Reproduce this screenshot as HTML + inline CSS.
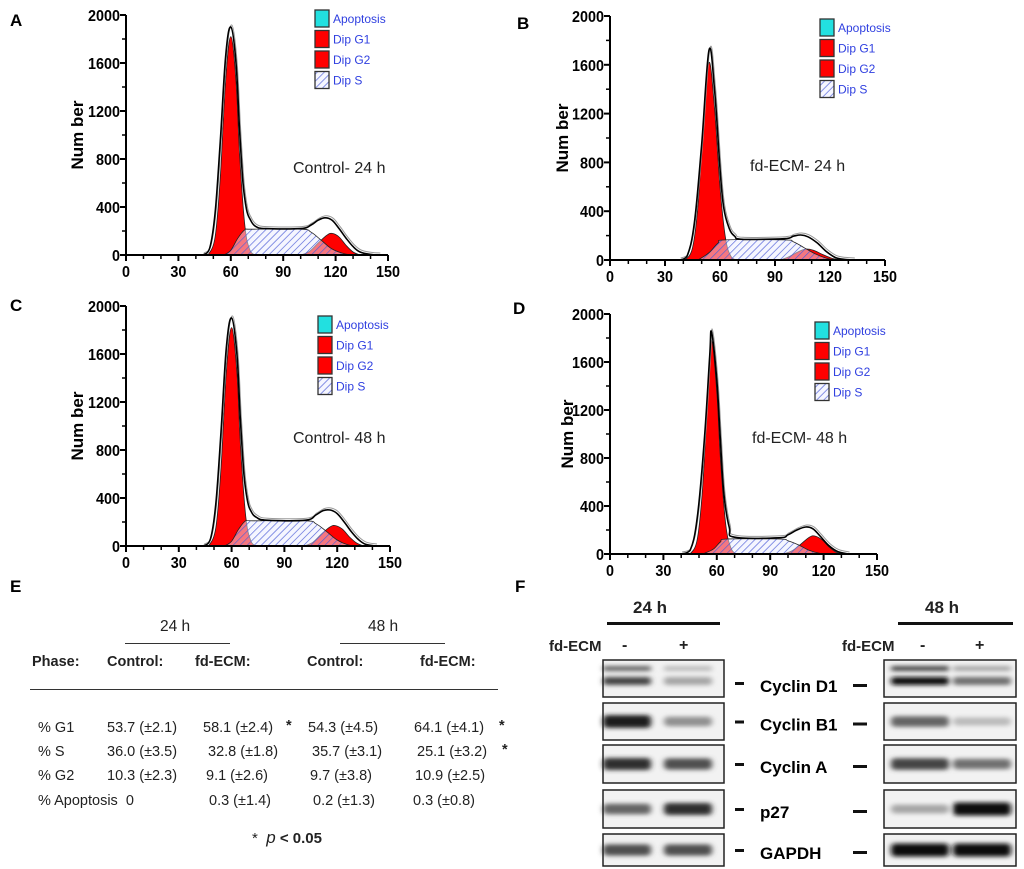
<!DOCTYPE html>
<html><head><meta charset="utf-8">
<style>
html,body{margin:0;padding:0;background:#fff;}
body{width:1024px;height:869px;position:relative;overflow:hidden;font-family:"Liberation Sans",sans-serif;}
.t{position:absolute;white-space:nowrap;font-size:14.5px;color:#222;line-height:1;}
.b{font-weight:bold;}
.L{position:absolute;font-weight:bold;font-size:17px;line-height:1;}
</style></head>
<body>
<svg id="fig" width="1024" height="869" style="position:absolute;left:0;top:0">
<defs>
<pattern id="hatch" patternUnits="userSpaceOnUse" width="5" height="5" patternTransform="rotate(45)">
<rect width="5" height="5" fill="rgba(235,238,255,0.5)"/>
<line x1="0" y1="0" x2="0" y2="5" stroke="#4f5fd8" stroke-width="1.3"/>
</pattern>
<filter id="blur" x="-30%" y="-100%" width="160%" height="300%"><feGaussianBlur stdDeviation="3,2.2"/></filter>
</defs>
</svg>

<div class="L" style="left:10px;top:12px">A</div>
<div class="L" style="left:517px;top:15px">B</div>
<div class="L" style="left:10px;top:297px">C</div>
<div class="L" style="left:513px;top:300px">D</div>
<div class="L" style="left:10px;top:578px">E</div>
<div class="L" style="left:515px;top:578px">F</div>

<div>
<div class="t" style="left:160px;top:619px;font-size:15.5px">24 h</div>
<div style="position:absolute;left:125px;top:643px;width:105px;height:1px;background:#333"></div>
<div class="t" style="left:368px;top:619px;font-size:15.5px">48 h</div>
<div style="position:absolute;left:340px;top:643px;width:105px;height:1px;background:#333"></div>
<div class="t b" style="left:32px;top:655px">Phase:</div>
<div class="t b" style="left:107px;top:655px">Control:</div>
<div class="t b" style="left:195px;top:655px">fd-ECM:</div>
<div class="t b" style="left:307px;top:655px">Control:</div>
<div class="t b" style="left:420px;top:655px">fd-ECM:</div>
<div style="position:absolute;left:30px;top:689px;width:468px;height:1px;background:#333"></div>

<div class="t" style="left:38px;top:721px">% G1</div>
<div class="t" style="left:107px;top:721px">53.7 (±2.1)</div>
<div class="t" style="left:203px;top:721px">58.1 (±2.4)</div>
<div class="t b" style="left:286px;top:719px">*</div>
<div class="t" style="left:308px;top:721px">54.3 (±4.5)</div>
<div class="t" style="left:414px;top:721px">64.1 (±4.1)</div>
<div class="t b" style="left:499px;top:719px">*</div>

<div class="t" style="left:38px;top:745px">% S</div>
<div class="t" style="left:107px;top:745px">36.0 (±3.5)</div>
<div class="t" style="left:208px;top:745px">32.8 (±1.8)</div>
<div class="t" style="left:312px;top:745px">35.7 (±3.1)</div>
<div class="t" style="left:417px;top:745px">25.1 (±3.2)</div>
<div class="t b" style="left:502px;top:743px">*</div>

<div class="t" style="left:38px;top:769px">% G2</div>
<div class="t" style="left:107px;top:769px">10.3 (±2.3)</div>
<div class="t" style="left:206px;top:769px">9.1 (±2.6)</div>
<div class="t" style="left:310px;top:769px">9.7 (±3.8)</div>
<div class="t" style="left:415px;top:769px">10.9 (±2.5)</div>

<div class="t" style="left:38px;top:794px">% Apoptosis&nbsp; 0</div>
<div class="t" style="left:209px;top:794px">0.3 (±1.4)</div>
<div class="t" style="left:313px;top:794px">0.2 (±1.3)</div>
<div class="t" style="left:413px;top:794px">0.3 (±0.8)</div>

<div class="t" style="left:252px;top:829px;font-size:15px">* &nbsp;<i style="font-size:17px">p</i> <b>&lt; 0.05</b></div>
</div>

<div class="t b" style="left:633px;top:599px;font-size:17px">24 h</div>
<div style="position:absolute;left:607px;top:622px;width:113px;height:3px;background:#111"></div>
<div class="t b" style="left:925px;top:599px;font-size:17px">48 h</div>
<div style="position:absolute;left:898px;top:622px;width:115px;height:3px;background:#111"></div>
<div class="t b" style="left:549px;top:639px;font-size:15px">fd-ECM</div>
<div class="t b" style="left:622px;top:638px;font-size:16px">-</div>
<div class="t b" style="left:679px;top:638px;font-size:16px">+</div>
<div class="t b" style="left:842px;top:639px;font-size:15px">fd-ECM</div>
<div class="t b" style="left:920px;top:638px;font-size:16px">-</div>
<div class="t b" style="left:975px;top:638px;font-size:16px">+</div>

<script>
const panelNames = ["A","B","C","D"];
const panelTitles = ["Control- 24 h","fd-ECM- 24 h","Control- 48 h","fd-ECM- 48 h"];
const xTicks = [0,30,60,90,120,150];
const yTicks = [0,400,800,1200,1600,2000];
const legendLabels = ["Apoptosis","Dip G1","Dip G2","Dip S"];

const A_g1 = [[47,0],[51,150],[54,650],[57,1450],[60,1820],[63,1450],[65,850],[68,250],[71,40],[74,0]];
const A_s  = [[56,0],[60,40],[64,140],[68,210],[72,215],[100,215],[106,190],[112,120],[118,50],[125,10],[130,0]];
const A_g2 = [[100,0],[105,30],[110,100],[115,165],[118,180],[122,150],[126,80],[130,25],[134,0]];
const A_tot= [[44,0],[48,60],[51,350],[54,950],[57,1650],[60,1900],[63,1600],[65,1050],[67,600],[69,380],[71,300],[74,240],[80,220],[100,220],[106,250],[110,290],[114,310],[118,290],[122,220],[126,140],[130,70],[134,25],[140,5],[145,0]];

const B_g1 = [[41,0],[45,100],[48,450],[51,1150],[54,1620],[57,1250],[60,600],[63,180],[66,30],[69,0]];
const B_s  = [[48,0],[54,60],[59,140],[63,165],[95,165],[100,150],[106,100],[112,50],[118,15],[123,0]];
const B_g2 = [[93,0],[98,30],[103,70],[107,90],[111,80],[116,45],[121,15],[126,0]];
const B_tot= [[38,0],[42,30],[46,300],[50,950],[54,1720],[57,1400],[60,750],[62,430],[65,260],[68,195],[72,170],[95,175],[100,195],[104,205],[108,190],[113,140],[118,70],[123,20],[128,5],[133,0]];

const C_g1 = [[47,0],[51,150],[54,650],[57,1450],[60,1820],[63,1450],[65,850],[68,250],[71,40],[74,0]];
const C_s  = [[56,0],[60,40],[64,140],[68,210],[72,210],[102,210],[108,185],[114,120],[120,50],[126,10],[131,0]];
const C_g2 = [[101,0],[106,30],[111,100],[116,160],[119,170],[123,140],[127,75],[131,25],[135,0]];
const C_tot= [[44,0],[48,60],[51,350],[54,950],[57,1650],[60,1900],[63,1600],[65,1050],[67,600],[69,380],[71,290],[74,240],[80,215],[102,215],[108,260],[112,295],[116,300],[120,270],[124,200],[128,120],[132,55],[136,15],[142,0]];

const D_g1 = [[45,0],[49,120],[52,550],[55,1350],[57,1780],[60,1350],[62,800],[65,250],[68,50],[71,0]];
const D_s  = [[52,0],[58,40],[62,100],[66,125],[95,125],[100,110],[106,75],[112,30],[118,5],[122,0]];
const D_g2 = [[97,0],[102,25],[107,80],[112,140],[115,150],[119,120],[123,60],[127,15],[131,0]];
const D_tot= [[40,0],[45,30],[49,300],[53,950],[56,1650],[57,1850],[60,1450],[62,950],[64,500],[67,220],[70,140],[95,135],[100,160],[105,200],[110,225],[114,210],[118,150],[123,70],[128,20],[134,0]];

const seriesG1 = [A_g1,B_g1,C_g1,D_g1];
const seriesS  = [A_s,B_s,C_s,D_s];
const seriesG2 = [A_g2,B_g2,C_g2,D_g2];
const seriesTot= [A_tot,B_tot,C_tot,D_tot];

const proteins = ["Cyclin D1","Cyclin B1","Cyclin A","p27","GAPDH"];
const blot24_minus = [0.75,0.95,0.85,0.6,0.7];
const blot24_plus  = [0.3,0.4,0.7,0.85,0.7];
const blot48_minus = [1.0,0.6,0.75,0.3,1.0];
const blot48_plus  = [0.55,0.2,0.55,1.0,1.0];
const d1Upper24 = [0.6,0.2];
const d1Upper48 = [0.75,0.3];

const layouts = [
  {x0:126,x1:388,y0:255,y1:15, ylab:77, legX:315, legY:10, titleX:293, titleY:167},
  {x0:610,x1:885,y0:260,y1:16, ylab:562, legX:820, legY:19, titleX:750, titleY:165},
  {x0:126,x1:390,y0:546,y1:306, ylab:77, legX:318, legY:316, titleX:293, titleY:437},
  {x0:610,x1:877,y0:554,y1:314, ylab:567, legX:815, legY:322, titleX:752, titleY:437}
];
const svg = document.getElementById('fig');
const NS = 'http://www.w3.org/2000/svg';
function mk(tag, attrs, parent){
  const e = document.createElementNS(NS, tag);
  for (const k in attrs) e.setAttribute(k, attrs[k]);
  (parent||svg).appendChild(e); return e;
}
function smoothPath(pts, sx, sy, close){
  const P = pts.map(p=>[sx(p[0]), sy(p[1])]);
  let d = 'M'+P[0][0].toFixed(1)+','+P[0][1].toFixed(1);
  const y0 = sy(0);
  for (let i=0;i<P.length-1;i++){
    const p0=P[Math.max(0,i-1)], p1=P[i], p2=P[i+1], p3=P[Math.min(P.length-1,i+2)];
    const t=0.18;
    let c1y = p1[1]+(p2[1]-p0[1])*t, c2y = p2[1]-(p3[1]-p1[1])*t;
    c1y=Math.min(c1y,y0); c2y=Math.min(c2y,y0);
    d += ' C'+(p1[0]+(p2[0]-p0[0])*t).toFixed(1)+','+c1y.toFixed(1)+' '+(p2[0]-(p3[0]-p1[0])*t).toFixed(1)+','+c2y.toFixed(1)+' '+p2[0].toFixed(1)+','+p2[1].toFixed(1);
  }
  if (close) d += ' Z';
  return d;
}

layouts.forEach((L, i) => {
  const g = mk('g', {});
  
  
  const sx = v => L.x0 + (L.x1 - L.x0) * v / 150;
  const sy = v => L.y0 - (L.y0 - L.y1) * v / 2000;

  const g1 = mk('path', {d: smoothPath(seriesG1[i], sx, sy, true), fill:'#ff0000', stroke:'#222', 'stroke-width':0.8}, g);
  
  
  const g2 = mk('path', {d: smoothPath(seriesG2[i], sx, sy, true), fill:'#ff0000', stroke:'#222', 'stroke-width':0.8}, g);
  
  
  const s = mk('path', {d: smoothPath(seriesS[i], sx, sy, true), fill:'url(#hatch)', stroke:'#222', 'stroke-width':0.8}, g);
  
  
  const raw = mk('path', {d: smoothPath(seriesTot[i], sx, sy, false), fill:'none', stroke:'#999', 'stroke-width':1, transform:'translate(1,-2)'}, g);
  
  
  const tot = mk('path', {d: smoothPath(seriesTot[i], sx, sy, false), fill:'none', stroke:'#000', 'stroke-width':1.6}, g);
  
  

  mk('line', {x1:L.x0, y1:L.y0, x2:L.x1, y2:L.y0, stroke:'#000', 'stroke-width':2}, g);
  mk('line', {x1:L.x0, y1:L.y0, x2:L.x0, y2:L.y1, stroke:'#000', 'stroke-width':2}, g);
  for (let v=0; v<=150; v+=10){
    const major = v%30===0;
    mk('line', {x1:sx(v), y1:L.y0, x2:sx(v), y2:L.y0+(major?6:4), stroke:'#000', 'stroke-width':major?2:1.5}, g);
  }
  for (let v=0; v<=2000; v+=200){
    const major = v%400===0;
    mk('line', {x1:L.x0, y1:sy(v), x2:L.x0-(major?6:4), y2:sy(v), stroke:'#000', 'stroke-width':major?2:1.5}, g);
  }
  xTicks.forEach(v => {
    const s = String(v);
    const t = mk('text', {x:sx(v), y:L.y0+22, 'text-anchor':'middle', 'font-weight':'bold', 'font-size':16, textLength:s.length*8, lengthAdjust:'spacingAndGlyphs'}, g);
    t.textContent = s;
    
    
  });
  yTicks.forEach(v => {
    const s = String(v);
    const t = mk('text', {x:L.x0-6-s.length*8, y:sy(v)+6, 'font-weight':'bold', 'font-size':16, textLength:s.length*8, lengthAdjust:'spacingAndGlyphs'}, g);
    t.textContent = s;
    
    
  });
  const yc = (L.y0 + L.y1)/2;
  const yl = mk('text', {x:L.ylab, y:yc, 'text-anchor':'middle', transform:'rotate(-90 '+L.ylab+' '+yc+')', 'font-weight':'bold', 'font-size':17, dy:6}, g);
  yl.textContent = 'Num ber';
  
  
  const tt = mk('text', {x:L.titleX, y:L.titleY+6, 'font-size':16, fill:'#222'}, g);
  tt.textContent = panelTitles[i];
  
  

  const fills = ['#22e0e0','#ff0000','#ff0000','url(#hatch)'];
  legendLabels.forEach((lab, k) => {
    const y = L.legY + k*20.5;
    const r = mk('rect', {x:L.legX, y:y, width:14, height:17, fill:fills[k], stroke:'#333', 'stroke-width':1.3}, g);
    
    
    const t = mk('text', {x:L.legX+18, y:y+13, 'font-size':12, fill:'#3040e0'}, g);
    t.textContent = lab;
    
    
  });
});

const rowsY = [[660,697],[703,740],[745,783],[790,828],[834,866]];
const blotSets = [
  {bx:603, bw:121, lanes:[627,688], bandW:48, minus:blot24_minus, plus:blot24_plus, upper:d1Upper24},
  {bx:884, bw:132, lanes:[920,982], bandW:58, minus:blot48_minus, plus:blot48_plus, upper:d1Upper48}
];
blotSets.forEach((B, bi) => {
  proteins.forEach((p, r) => {
    const [yt, yb] = rowsY[r];
    const g = mk('g', {});
    
    
    mk('rect', {x:B.bx, y:yt, width:B.bw, height:yb-yt, fill:'#f2f2f2'}, g);
    const vals = [B.minus[r], B.plus[r]];
    const bandG = mk('g', {filter:'url(#blur)'}, g);
    B.lanes.forEach((cx, li) => {
      const v = vals[li];
      const c = Math.round(230 - 215*v);
      if (r === 0){
        const vu = B.upper[li];
        const cu = Math.round(230 - 215*vu);
        mk('rect', {x:cx-B.bandW/2, y:yt+6, width:B.bandW, height:5, rx:2, fill:'rgb('+cu+','+cu+','+cu+')'}, bandG);
        mk('rect', {x:cx-B.bandW/2, y:yt+17, width:B.bandW, height:8, rx:3, fill:'rgb('+c+','+c+','+c+')'}, bandG);
      } else {
        const h = 7 + 6*v;
        mk('rect', {x:cx-B.bandW/2, y:(yt+yb)/2-h/2, width:B.bandW, height:h, rx:4, fill:'rgb('+c+','+c+','+c+')'}, bandG);
      }
    });
    mk('rect', {x:B.bx, y:yt, width:B.bw, height:yb-yt, fill:'none', stroke:'#222', 'stroke-width':1.5}, g);
  });
});
proteins.forEach((p, r) => {
  const [yt, yb] = rowsY[r];
  const cy = r===0 ? 686 : (yt+yb)/2 + 3;
  mk('rect', {x:735, y:cy-4, width:9, height:3, fill:'#111'});
  mk('rect', {x:853, y:cy-2, width:14, height:3, fill:'#111'});
  const t = mk('text', {x:760, y:cy+6, 'font-weight':'bold', 'font-size':17});
  t.textContent = p;
  
  
});
</script>
</body></html>
